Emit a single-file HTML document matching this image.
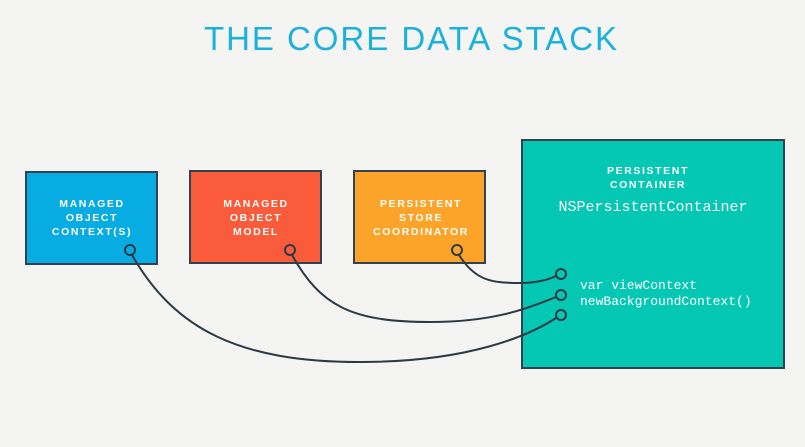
<!DOCTYPE html>
<html><head><style>
html,body{margin:0;padding:0;background:#f4f4f2;}
svg{display:block;}
</style></head><body>
<svg width="805" height="447" viewBox="0 0 805 447" xmlns="http://www.w3.org/2000/svg">
<rect width="805" height="447" fill="#f4f4f2"/>
<text x="204" y="50" font-family="Liberation Sans, sans-serif" font-size="33" fill="#1cb0dc" textLength="413" lengthAdjust="spacing">THE CORE DATA STACK</text>
<rect x="26" y="172" width="131" height="92" fill="#06ace2" stroke="#34424f" stroke-width="2"/>
<rect x="190" y="171" width="131" height="92" fill="#f95b3b" stroke="#34424f" stroke-width="2"/>
<rect x="354" y="171" width="131" height="92" fill="#fca42a" stroke="#34424f" stroke-width="2"/>
<rect x="522" y="140" width="262" height="228" fill="#05c8b4" stroke="#34424f" stroke-width="2"/>
<g font-family="Liberation Sans, sans-serif" font-weight="bold" font-size="10.5" fill="#fff" text-anchor="middle" letter-spacing="1.6">
<text x="92" y="207">MANAGED</text><text x="92" y="221">OBJECT</text><text x="92" y="235">CONTEXT(S)</text>
<text x="256" y="207">MANAGED</text><text x="256" y="221">OBJECT</text><text x="256" y="235">MODEL</text>
<text x="421" y="207">PERSISTENT</text><text x="421" y="221">STORE</text><text x="421" y="235">COORDINATOR</text>
<text x="648" y="174">PERSISTENT</text><text x="648" y="188">CONTAINER</text>
</g>
<g font-family="Liberation Mono, monospace" fill="#fff">
<text x="653" y="211" font-size="15" text-anchor="middle">NSPersistentContainer</text>
<text x="580" y="289" font-size="13">var viewContext</text>
<text x="580" y="305" font-size="13">newBackgroundContext()</text>
</g>
<g fill="none" stroke="#2d3a44" stroke-width="2">
<path d="M459 255 C 475 280, 490 283, 520 283 C 535 283, 548 280, 556 276"/>
<path d="M292 255 C 320 305, 350 322, 430 322 C 500 322, 535 305, 556 297"/>
<path d="M132 255 C 175 330, 240 362, 360 362 C 470 362, 530 335, 556 318"/>
<circle cx="130" cy="250" r="5" fill="#06ace2"/>
<circle cx="290" cy="250" r="5" fill="#f95b3b"/>
<circle cx="457" cy="250" r="5" fill="#fca42a"/>
<circle cx="561" cy="274" r="5" fill="#05c8b4"/>
<circle cx="561" cy="295" r="5" fill="#05c8b4"/>
<circle cx="561" cy="315" r="5" fill="#05c8b4"/>
</g>
</svg>
</body></html>
